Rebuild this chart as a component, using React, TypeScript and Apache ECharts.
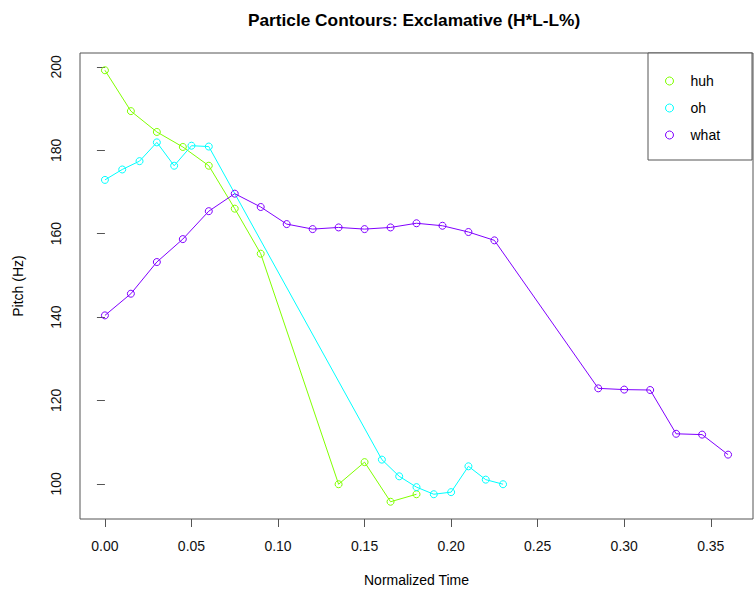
import React, { useEffect, useRef } from "react";
import * as echarts from "echarts";

// Normalized time stamps and pitch (Hz) for each particle
const huhTime = [0, 0.015, 0.03, 0.045, 0.06, 0.075, 0.09, 0.135, 0.15, 0.165, 0.18];
const huhPitch = [199.2, 189.4, 184.4, 180.8, 176.3, 166.0, 155.2, 99.9, 105.2, 95.7, 97.5];

const ohTime = [0, 0.01, 0.02, 0.03, 0.04, 0.05, 0.06, 0.16, 0.17, 0.18, 0.19, 0.2, 0.21, 0.22, 0.23];
const ohPitch = [172.9, 175.4, 177.4, 181.9, 176.3, 181.1, 180.9, 105.8, 101.8, 99.2, 97.5, 98.0, 104.2, 101.0, 99.9];

const whatTime = [
  0, 0.015, 0.03, 0.045, 0.06, 0.075, 0.09, 0.105, 0.12, 0.135, 0.15, 0.165, 0.18, 0.195, 0.21, 0.225,
  0.285, 0.3, 0.315, 0.33, 0.345, 0.36,
];
const whatPitch = [
  140.4, 145.6, 153.2, 158.7, 165.4, 169.6, 166.4, 162.3, 161.1, 161.5, 161.1, 161.5, 162.5, 161.9, 160.4, 158.4,
  122.9, 122.6, 122.5, 112.0, 111.8, 107.0,
];

const xTicks = [0, 0.05, 0.1, 0.15, 0.2, 0.25, 0.3, 0.35];
const yTicks = [100, 120, 140, 160, 180, 200];

const seriesNames = ["huh", "oh", "what"];
const seriesColors = ["#80FF00", "#00FFFF", "#8000FF"];

const zip = (xs: number[], ys: number[]) => xs.map((x, i) => [x, ys[i]]);

export default function App() {
  const ref = useRef<HTMLDivElement>(null);

  useEffect(() => {
    if (!ref.current) return;
    document.body.style.margin = "0";
    const chart = echarts.init(ref.current, null, { renderer: "svg" });
    const font = "'Liberation Sans', Arial, Helvetica, sans-serif";
    const datasets = [zip(huhTime, huhPitch), zip(ohTime, ohPitch), zip(whatTime, whatPitch)];

    // R-style padded ranges (4% each side of the data extent)
    const allX = [...huhTime, ...ohTime, ...whatTime];
    const allY = [...huhPitch, ...ohPitch, ...whatPitch];
    const xLo = Math.min(...allX), xHi = Math.max(...allX);
    const yLo = Math.min(...allY), yHi = Math.max(...allY);
    const xPad = (xHi - xLo) * 0.04, yPad = (yHi - yLo) * 0.04;

    chart.setOption({
      animation: false,
      backgroundColor: "#fff",
      textStyle: { fontFamily: font },
      title: {
        text: "Particle Contours: Exclamative (H*L-L%)",
        left: 409,
        textAlign: "center",
        top: 6,
        textStyle: { fontSize: 17.3, fontWeight: "bold", color: "#000", fontFamily: font },
      },
      grid: {
        left: 80,
        top: 53,
        width: 673,
        height: 466,
        show: true,
        borderColor: "#555",
        borderWidth: 1,
        backgroundColor: "transparent",
      },
      // legend frame
      graphic: [
        {
          type: "rect",
          shape: { x: 648, y: 53, width: 104, height: 107 },
          style: { fill: "#fff", stroke: "#555", lineWidth: 1 },
          z: 5,
        },
      ],
      xAxis: {
        type: "value",
        min: xLo - xPad,
        max: xHi + xPad,
        name: "Normalized Time",
        nameLocation: "middle",
        nameGap: 54,
        nameTextStyle: { fontSize: 14, color: "#000", fontFamily: font },
        axisLine: { show: false },
        splitLine: { show: false },
        axisTick: { show: true, inside: false, length: 8, customValues: xTicks, lineStyle: { color: "#555" } },
        axisLabel: {
          customValues: xTicks,
          formatter: (v: number) => v.toFixed(2),
          fontSize: 14,
          color: "#111",
          margin: 20,
          fontFamily: font,
        },
      },
      yAxis: {
        type: "value",
        min: yLo - yPad,
        max: yHi + yPad,
        name: "Pitch (Hz)",
        nameLocation: "middle",
        nameGap: 55,
        nameRotate: 90,
        nameTextStyle: { fontSize: 14, color: "#000", fontFamily: font },
        axisLine: { show: false },
        splitLine: { show: false },
        axisTick: { show: true, inside: false, length: 8, customValues: yTicks, lineStyle: { color: "#555" } },
        axisLabel: {
          customValues: yTicks,
          rotate: 90,
          fontSize: 14,
          color: "#111",
          margin: 17,
          fontFamily: font,
        },
      },
      legend: {
        orient: "vertical",
        left: 648,
        top: 53,
        padding: [21, 0, 0, 17],
        itemWidth: 32,
        itemHeight: 8,
        itemGap: 13,
        borderWidth: 0,
        z: 10,
        textStyle: { fontSize: 14, color: "#000", lineHeight: 14, fontFamily: font },
        data: seriesNames.map((n, i) => ({
          name: n,
          icon: "circle",
          itemStyle: { color: "transparent", borderColor: seriesColors[i], borderWidth: 1 },
        })),
      },
      series: seriesNames.map((n, i) => ({
        name: n,
        type: "line",
        data: datasets[i],
        symbol: "circle",
        symbolSize: 7,
        showAllSymbol: true,
        itemStyle: { color: "transparent", borderColor: seriesColors[i], borderWidth: 1 },
        lineStyle: { color: seriesColors[i], width: 1 },
        emphasis: { disabled: true },
      })),
    });

    return () => chart.dispose();
  }, []);

  return <div ref={ref} style={{ width: 756, height: 594 }} />;
}
